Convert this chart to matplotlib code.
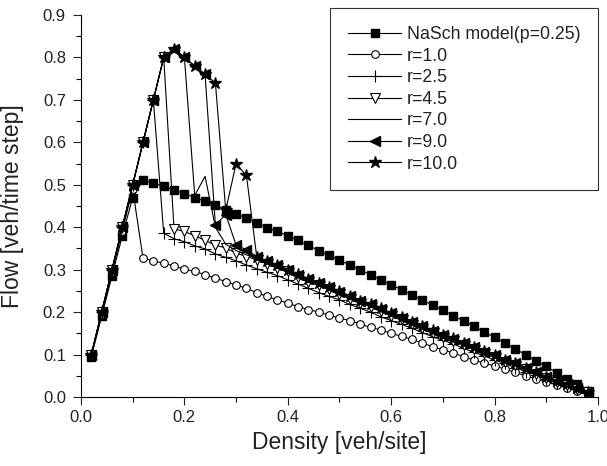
import matplotlib
matplotlib.use('Agg')
import matplotlib.pyplot as plt
from matplotlib.ticker import MultipleLocator

plt.rcParams['font.family'] = ['Liberation Sans', 'DejaVu Sans']

# densidad (veh/site)
density = [0.02, 0.04, 0.06, 0.08, 0.10, 0.12, 0.14, 0.16, 0.18, 0.20,
           0.22, 0.24, 0.26, 0.28, 0.30, 0.32, 0.34, 0.36, 0.38, 0.40,
           0.42, 0.44, 0.46, 0.48, 0.50, 0.52, 0.54, 0.56, 0.58, 0.60,
           0.62, 0.64, 0.66, 0.68, 0.70, 0.72, 0.74, 0.76, 0.78, 0.80,
           0.82, 0.84, 0.86, 0.88, 0.90, 0.92, 0.94, 0.96, 0.98]

flow_nasch = [0.095, 0.19, 0.285, 0.38, 0.47, 0.511, 0.504, 0.496, 0.488, 0.479,
              0.470, 0.461, 0.453, 0.441, 0.432, 0.421, 0.411, 0.399, 0.390, 0.380,
              0.369, 0.357, 0.345, 0.334, 0.322, 0.311, 0.300, 0.288, 0.276, 0.264,
              0.253, 0.241, 0.229, 0.216, 0.204, 0.192, 0.179, 0.167, 0.153, 0.141,
              0.128, 0.113, 0.100, 0.085, 0.072, 0.057, 0.043, 0.030, 0.015]

flow_r10 = [0.098, 0.196, 0.294, 0.392, 0.49, 0.327, 0.321, 0.315, 0.309, 0.301,
            0.296, 0.288, 0.280, 0.272, 0.264, 0.256, 0.246, 0.237, 0.229, 0.221,
            0.213, 0.206, 0.200, 0.193, 0.186, 0.180, 0.172, 0.164, 0.158, 0.150,
            0.143, 0.136, 0.127, 0.119, 0.111, 0.104, 0.095, 0.087, 0.080, 0.073,
            0.066, 0.058, 0.050, 0.043, 0.036, 0.028, 0.021, 0.014, 0.009]

flow_r25 = [0.1, 0.2, 0.3, 0.4, 0.5, 0.6, 0.7, 0.386, 0.373, 0.366,
            0.356, 0.349, 0.337, 0.329, 0.321, 0.311, 0.302, 0.294, 0.286, 0.276,
            0.266, 0.256, 0.246, 0.237, 0.229, 0.218, 0.209, 0.200, 0.189, 0.180,
            0.171, 0.162, 0.152, 0.142, 0.134, 0.125, 0.115, 0.105, 0.097, 0.087,
            0.079, 0.069, 0.060, 0.052, 0.042, 0.034, 0.026, 0.018, 0.010]

flow_r45 = [0.1, 0.2, 0.3, 0.4, 0.5, 0.6, 0.7, 0.8, 0.396, 0.390,
            0.380, 0.369, 0.358, 0.351, 0.339, 0.331, 0.323, 0.314, 0.305, 0.296,
            0.282, 0.272, 0.263, 0.254, 0.243, 0.232, 0.222, 0.213, 0.203, 0.192,
            0.183, 0.171, 0.163, 0.151, 0.141, 0.133, 0.123, 0.114, 0.103, 0.095,
            0.083, 0.075, 0.065, 0.055, 0.046, 0.036, 0.028, 0.020, 0.011]

flow_r70 = [0.1, 0.2, 0.3, 0.4, 0.5, 0.6, 0.7, 0.8, 0.82, 0.80,
            0.475, 0.52, 0.40, 0.36, 0.345, 0.335, 0.327, 0.318, 0.308, 0.299,
            0.287, 0.277, 0.267, 0.258, 0.247, 0.236, 0.226, 0.217, 0.207, 0.196,
            0.186, 0.175, 0.166, 0.155, 0.145, 0.136, 0.126, 0.117, 0.106, 0.098,
            0.086, 0.078, 0.067, 0.057, 0.047, 0.037, 0.029, 0.021, 0.012]

flow_r90 = [0.1, 0.2, 0.3, 0.4, 0.5, 0.6, 0.7, 0.8, 0.82, 0.80,
            0.78, 0.76, 0.405, 0.43, 0.358, 0.347, 0.331, 0.320, 0.310, 0.300,
            0.288, 0.278, 0.268, 0.259, 0.248, 0.237, 0.227, 0.218, 0.208, 0.197,
            0.187, 0.176, 0.167, 0.156, 0.146, 0.137, 0.127, 0.118, 0.107, 0.099,
            0.087, 0.079, 0.068, 0.058, 0.048, 0.038, 0.030, 0.022, 0.013]

flow_r100 = [0.1, 0.2, 0.3, 0.4, 0.5, 0.6, 0.7, 0.8, 0.82, 0.80,
             0.78, 0.76, 0.74, 0.44, 0.55, 0.522, 0.330, 0.320, 0.310, 0.300,
             0.289, 0.279, 0.269, 0.259, 0.249, 0.238, 0.227, 0.219, 0.209, 0.198,
             0.188, 0.176, 0.168, 0.157, 0.146, 0.138, 0.128, 0.119, 0.108, 0.099,
             0.088, 0.079, 0.068, 0.058, 0.048, 0.038, 0.030, 0.022, 0.013]

fig = plt.figure(figsize=(6.07, 4.66), dpi=100)
ax = fig.add_axes([0.1334, 0.148, 0.8518, 0.8198])

k = 'black'
lw = 0.8
ax.plot(density, flow_nasch, color=k, lw=lw, marker='s', ms=6, mfc=k, mec=k,
        label='NaSch model(p=0.25)')
ax.plot(density, flow_r10, color=k, lw=lw, marker='o', ms=5.5, mfc='white', mec=k,
        mew=0.8, label='r=1.0')
ax.plot(density, flow_r25, color=k, lw=lw, marker='+', ms=8, mec=k, mew=0.8,
        label='r=2.5')
ax.plot(density, flow_r45, color=k, lw=lw, marker='v', ms=7, mfc='white', mec=k,
        mew=0.8, label='r=4.5')
ax.plot(density, flow_r70, color=k, lw=lw, label='r=7.0')
ax.plot(density, flow_r90, color=k, lw=lw, marker='<', ms=7, mfc=k, mec=k,
        label='r=9.0')
ax.plot(density, flow_r100, color=k, lw=lw, marker='*', ms=9, mfc=k, mec=k,
        label='r=10.0')

ax.set_xlim(0, 1.0)
ax.set_ylim(0, 0.9)
ax.xaxis.set_major_locator(MultipleLocator(0.2))
ax.xaxis.set_minor_locator(MultipleLocator(0.1))
ax.yaxis.set_major_locator(MultipleLocator(0.1))
ax.yaxis.set_minor_locator(MultipleLocator(0.05))
ax.xaxis.set_major_formatter(plt.FormatStrFormatter('%.1f'))
ax.yaxis.set_major_formatter(plt.FormatStrFormatter('%.1f'))
ax.tick_params(which='major', direction='out', length=5.8, width=0.8,
               labelsize=12, colors='#222222')
ax.tick_params(which='minor', direction='out', length=3.6, width=0.8)
ax.tick_params(axis='x', which='major', pad=3.5)
ax.tick_params(axis='y', which='major', pad=5)
ax.spines['top'].set_visible(False)
ax.spines['right'].set_visible(False)
for s in ('left', 'bottom'):
    ax.spines[s].set_linewidth(0.8)

ax.set_xlabel('Density [veh/site]', fontsize=16.5, color='#222222')
ax.set_ylabel('Flow [veh/time step]', fontsize=16.5, color='#222222')
ax.xaxis.set_label_coords(0.5, -0.088)
ax.yaxis.set_label_coords(-0.11, 0.5)

leg = ax.legend(loc='upper right', bbox_to_anchor=(1.0, 1.018), fontsize=12.8,
                frameon=True, fancybox=False, edgecolor='black',
                handlelength=3.0, handletextpad=0.3, labelspacing=0.26,
                borderpad=1.0, borderaxespad=0)
leg.get_frame().set_linewidth(0.8)
for t in leg.get_texts():
    t.set_color('#222222')

fig.savefig('out.png', dpi=100)
plt.close(fig)
